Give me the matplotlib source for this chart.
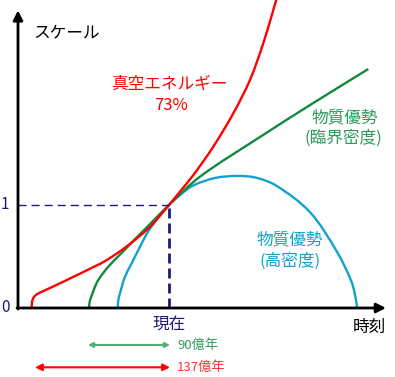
import matplotlib
matplotlib.use("Agg")
import matplotlib.pyplot as plt
import numpy as np
from matplotlib.path import Path
from matplotlib.patches import PathPatch

plt.rcParams['font.family'] = ['Noto Sans CJK JP', 'DejaVu Sans']

# time in 億年 relative to now, scale factor (1 = now)
red_t = [-137.3, -137.0, -136.0, -134, -131, -127, -120, -110.7, -94, -74, -64, -44, -22.3, -15.7, 0,
         11, 24.3, 44.3, 64.3, 81, 94.3, 104.3, 109]
red_a = [0.0, 0.05, 0.09, 0.118, 0.14, 0.158, 0.19, 0.232, 0.31, 0.405, 0.455, 0.585, 0.757, 0.822, 1.0,
         1.13, 1.29, 1.566, 1.89, 2.214, 2.57, 2.893, 3.05]

green_t = [-80, -79.3, -77.3, -74.7, -70.7, -60.7, -47.3, -34, -19, 0, 31, 91, 141, 199.3]
green_a = [0.0, 0.063, 0.12, 0.19, 0.272, 0.401, 0.535, 0.668, 0.815, 1.0, 1.275, 1.66, 1.97, 2.32]

blue_t = [-51.3, -50.6, -49, -44, -37.3, -29, -20.7, -10, 0, 12, 24.3, 46, 67.7, 87, 107.7, 141,
          167.7, 182.7, 187.3, 188]
blue_a = [0.0, 0.08, 0.143, 0.304, 0.434, 0.595, 0.745, 0.885, 1.0, 1.105, 1.19, 1.262, 1.282, 1.265,
          1.185, 0.93, 0.55, 0.25, 0.06, 0.0]

# age arrows: left end, right end (億年)
age_labels = ['90億年', '137億年']
age_start = [-81, -134]
age_end = [1, 1]

RED = '#ff0000'
GREEN = '#108a3c'
BLUE = '#12a2cc'
NAVY = '#1c1c78'
PX_PER_A = 103.0  # pixels per unit of scale factor, used only for smooth tangents


def smooth_path(xs, ys):
    # Bezier path through the given points (chord-length Catmull-Rom tangents)
    p = np.column_stack([xs, ys]).astype(float)
    q = p * [1.0, PX_PER_A]
    d = np.hypot(*np.diff(q, axis=0).T)
    n = len(p)
    tang = np.zeros_like(p)
    for i in range(n):
        if i == 0:
            tang[i] = (p[1] - p[0]) / d[0]
        elif i == n - 1:
            tang[i] = (p[-1] - p[-2]) / d[-1]
        else:
            tang[i] = (p[i + 1] - p[i - 1]) / (d[i - 1] + d[i])
    verts = [p[0]]
    codes = [Path.MOVETO]
    for i in range(n - 1):
        verts += [p[i] + tang[i] * d[i] / 3, p[i + 1] - tang[i + 1] * d[i] / 3, p[i + 1]]
        codes += [Path.CURVE4] * 3
    return Path(verts, codes)


fig = plt.figure(figsize=(3.95, 3.77), dpi=100)
ax = fig.add_axes([0, 0, 1, 1])
ax.set_xlim(-169, 226)
ax.set_ylim(-0.670, 2.990)
ax.axis('off')

x_axis = -151

# reference lines for "now"
ax.plot([x_axis, 0], [1, 1], color=NAVY, lw=1.0, dashes=(5.8, 3.6))
ax.plot([0, 0], [0, 1], color=NAVY, lw=2.0, dashes=(3.6, 1.8))

for t, a, c in [(blue_t, blue_a, BLUE), (green_t, green_a, GREEN), (red_t, red_a, RED)]:
    ax.add_patch(PathPatch(smooth_path(t, a), facecolor='none', edgecolor=c, lw=1.7, capstyle='butt'))

# axes with arrows
ax.annotate('', xy=(x_axis, 2.89), xytext=(x_axis, -0.01),
            arrowprops=dict(arrowstyle='-|>', color='black', lw=2, mutation_scale=14, shrinkA=0, shrinkB=0))
ax.annotate('', xy=(217, 0), xytext=(x_axis - 1, 0),
            arrowprops=dict(arrowstyle='-|>', color='black', lw=2, mutation_scale=14, shrinkA=0, shrinkB=0))

ax.text(-164, 1.0, '1', color=NAVY, fontsize=11, ha='center', va='center')
ax.text(-163, 0.0, '0', color=NAVY, fontsize=11, ha='center', va='center')
ax.text(-136, 2.67, 'スケール', color='black', fontsize=12, ha='left', va='center')
ax.text(200, -0.194, '時刻', color='black', fontsize=12, ha='center', va='center')
ax.text(0.6, -0.155, '現在', color=NAVY, fontsize=12, ha='center', va='center')

ax.text(0.5, 2.175, '真空エネルギー', color=RED, fontsize=12, ha='center', va='center')
ax.text(2, 1.961, '73%', color=RED, fontsize=12, ha='center', va='center')
ax.text(175.5, 1.845, '物質優勢', color='#2e9a5a', fontsize=12, ha='center', va='center')
ax.text(174, 1.65, '(臨界密度)', color='#2e9a5a', fontsize=12, ha='center', va='center')
ax.text(121, 0.66, '物質優勢', color=BLUE, fontsize=12, ha='center', va='center')
ax.text(121, 0.456, '(高密度)', color=BLUE, fontsize=12, ha='center', va='center')

age_y = [-0.359, -0.576]
age_colors = ['#4fb070', RED]
age_text_colors = ['#2e9a5a', '#ff3030']
age_heads = [7, 10]
for lab, s, e, y, c, tc, hs in zip(age_labels, age_start, age_end, age_y, age_colors, age_text_colors, age_heads):
    ax.annotate('', xy=(e, y), xytext=(s, y),
                arrowprops=dict(arrowstyle='<|-|>', color=c, lw=1.5, mutation_scale=hs, shrinkA=0, shrinkB=0))
    ax.text(8, y, lab, color=tc, fontsize=9.5, ha='left', va='center')

fig.savefig('out.png', dpi=100)
